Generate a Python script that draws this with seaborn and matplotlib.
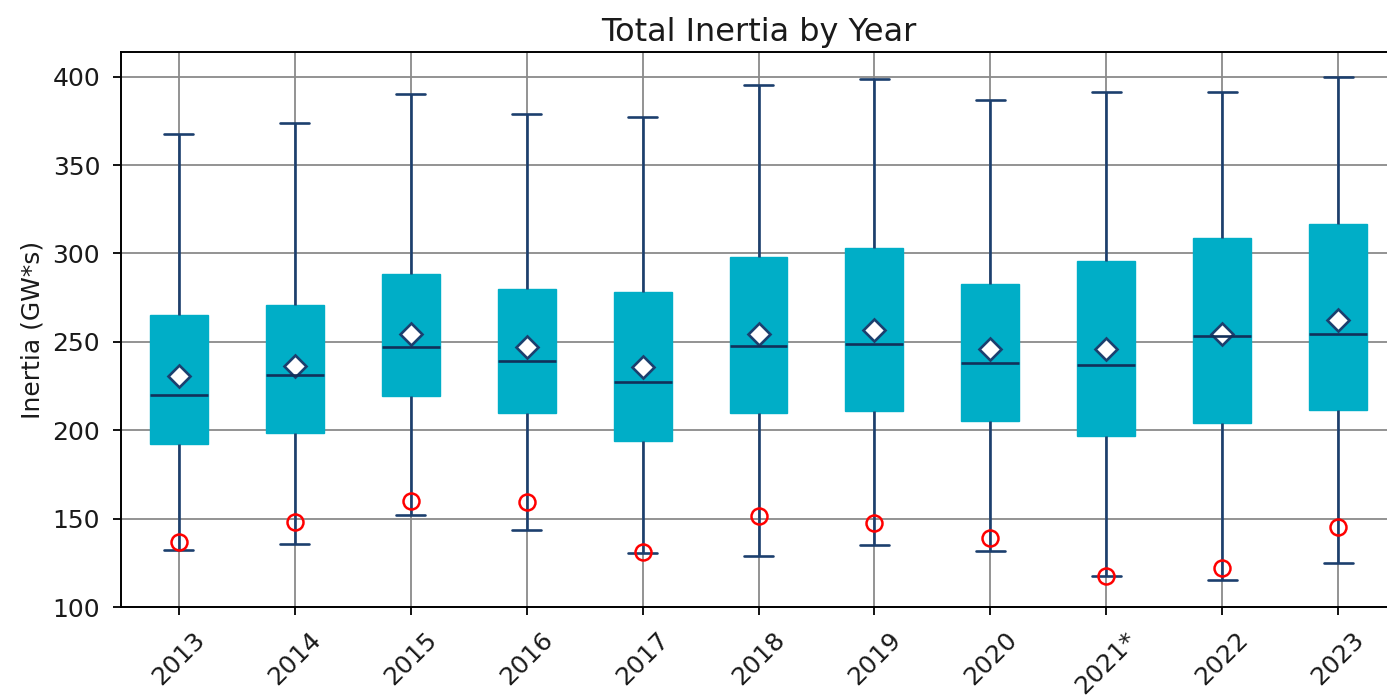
import matplotlib
matplotlib.use("Agg")
import matplotlib.pyplot as plt
import numpy as np
import pandas as pd
import seaborn as sns

# Yearly inertia statistics (GW*s)
years = ["2013", "2014", "2015", "2016", "2017", "2018", "2019", "2020", "2021*", "2022", "2023"]
minimum = [132.3, 135.7, 152.1, 143.4, 130.3, 128.8, 134.8, 131.5, 117.4, 115.2, 124.9]
q1 = [192.3, 198.7, 219.3, 209.7, 194.1, 209.7, 210.7, 205.0, 196.5, 204.0, 211.7]
median = [220.0, 231.3, 247.0, 238.9, 227.2, 247.8, 249.0, 238.1, 236.9, 253.5, 254.5]
q3 = [265.3, 271.0, 288.4, 279.7, 278.3, 297.9, 303.3, 282.7, 295.8, 309.0, 316.6]
maximum = [367.7, 374.0, 390.1, 379.2, 377.2, 395.6, 399.0, 386.9, 391.3, 391.3, 400.0]
mean = [230.8, 236.6, 254.5, 247.0, 235.9, 254.5, 256.7, 246.0, 246.0, 254.5, 262.1]
reference_point = [136.7, 148.3, 159.8, 159.6, 130.9, 151.3, 147.5, 139.0, 117.8, 122.2, 145.0]

BOX_COLOR = "#00aec7"
LINE_COLOR = "#1c3f6e"
MEDIAN_COLOR = "#12305a"

# Five-number summary per year; with linear percentiles these five values
# reproduce the quartiles, median and (with whis=(0, 100)) the extremes.
summary = pd.DataFrame({
    "year": np.repeat(years, 5),
    "value": np.column_stack([minimum, q1, median, q3, maximum]).ravel(),
})
means = pd.DataFrame({"year": years, "value": mean})
points = pd.DataFrame({"year": years, "value": reference_point})

sns.set_style("ticks")
plt.rcParams["font.family"] = ["DejaVu Sans"]
plt.rcParams["text.color"] = "#1a1a1a"
plt.rcParams["axes.labelcolor"] = "#1a1a1a"

fig = plt.figure(figsize=(13.87, 6.98), dpi=100)
ax = fig.add_axes([0.08724, 0.13037, 0.91925, 0.79513])
ax.set_axisbelow(True)

lw = 1.9
sns.boxplot(
    data=summary, x="year", y="value", order=years, ax=ax,
    width=0.5, whis=(0, 100), fill=True, showfliers=False,
    boxprops=dict(facecolor=BOX_COLOR, edgecolor=BOX_COLOR, linewidth=1.0),
    whiskerprops=dict(color=LINE_COLOR, linewidth=lw),
    capprops=dict(color=LINE_COLOR, linewidth=lw),
    medianprops=dict(color=MEDIAN_COLOR, linewidth=lw),
)

sns.pointplot(
    data=points, x="year", y="value", order=years, ax=ax,
    errorbar=None, linestyle="none", marker="o", color="red",
    markerfacecolor="none", markeredgecolor="red",
    markersize=11.5, markeredgewidth=1.8,
)

sns.pointplot(
    data=means, x="year", y="value", order=years, ax=ax,
    errorbar=None, linestyle="none", marker="D", color=LINE_COLOR,
    markerfacecolor="white", markeredgecolor=LINE_COLOR,
    markersize=11.5, markeredgewidth=1.9,
)

ax.set_xlim(-0.5, 10.5)
ax.set_ylim(100, 414)
ax.set_yticks([100, 150, 200, 250, 300, 350, 400])
ax.set_xticks(range(len(years)))
ax.set_xticklabels(years, rotation=45, ha="center")
ax.grid(True, color="#8a8a8a", linewidth=1.3)

ax.tick_params(axis="both", labelsize=18, length=6, width=1.3,
               color="black", labelcolor="#1a1a1a", pad=9)
for side in ax.spines.values():
    side.set_color("black")
    side.set_linewidth(1.4)

ax.set_xlabel("")
ax.set_ylabel("Inertia (GW*s)", fontsize=18, labelpad=6)
ax.set_title("Total Inertia by Year", fontsize=23, pad=8)

fig.savefig("out.png", dpi=100)
